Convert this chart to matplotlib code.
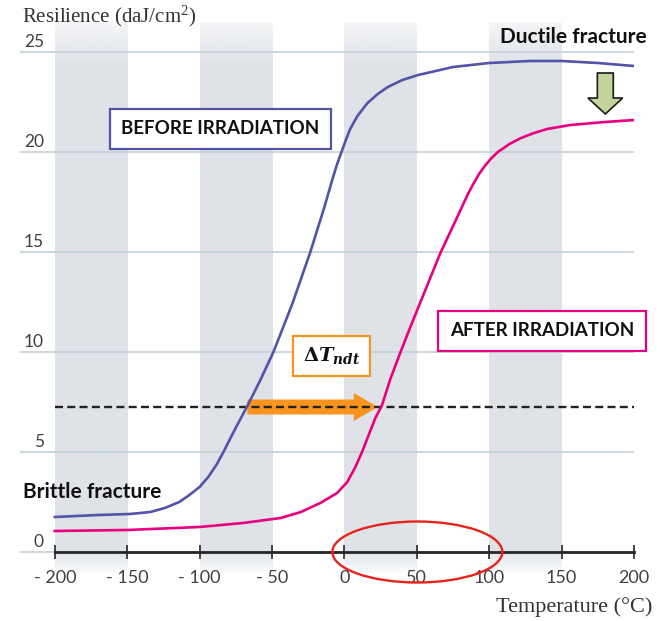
import numpy as np
import matplotlib
matplotlib.use("Agg")
import matplotlib.pyplot as plt
from matplotlib.patches import Ellipse, FancyArrow

plt.rcParams['font.family'] = ['Lato', 'DejaVu Sans']
plt.rcParams['mathtext.fontset'] = 'custom'
plt.rcParams['mathtext.rm'] = 'DejaVu Serif:bold'
plt.rcParams['mathtext.it'] = 'DejaVu Serif:italic:bold'

# data
temp_before = [-200, -170, -148, -134, -124, -114, -107, -100, -94, -88, -83.5, -79, -74, -67,
               -58, -49, -36, -23.5, -14, -8, -5, -2, 1, 4, 9, 16, 23, 30, 40, 51, 75, 100,
               128, 150, 175, 200]
res_before = [1.75, 1.85, 1.9, 2.0, 2.2, 2.5, 2.85, 3.25, 3.75, 4.4, 5.0, 5.65, 6.35, 7.3,
              8.6, 10.0, 12.4, 15.0, 17.2, 18.7, 19.4, 20.0, 20.6, 21.15, 21.8, 22.45, 22.9,
              23.25, 23.6, 23.85, 24.25, 24.45, 24.55, 24.55, 24.45, 24.3]

temp_after = [-200, -150, -100, -70, -44, -30, -16.6, -5, 2, 7.6, 12.2, 16.8, 21.4, 26, 32,
              38, 45, 52, 59, 66, 77, 85, 89, 93, 97, 101, 106, 114, 122, 131, 140, 156, 180, 200]
res_after = [1.05, 1.1, 1.25, 1.45, 1.7, 2.0, 2.45, 2.95, 3.5, 4.25, 5.0, 5.85, 6.7, 7.35, 8.7,
             9.85, 11.15, 12.4, 13.65, 14.9, 16.6, 17.85, 18.4, 18.9, 19.3, 19.65, 20.0, 20.4,
             20.7, 20.95, 21.15, 21.35, 21.5, 21.6]

ndt_level = 7.25
ndt_before = -67
ndt_after = 23

x_ticks = [-200, -150, -100, -50, 0, 50, 100, 150, 200]
x_labels = ['- 200', '- 150', '- 100', '- 50', '0', '50', '100', '150', '200']
y_ticks = [0, 5, 10, 15, 20, 25]
bands = [(-200, -150), (-100, -50), (0, 50), (100, 150)]

blue = '#5254a8'
pink = '#e8007f'
orange = '#f7941d'

fig = plt.figure(figsize=(6.67, 6.21), dpi=100)
ax = fig.add_axes([20 / 667, 39 / 621, 614 / 667, 560 / 621])

# shaded bands with soft fade at top and below the axis
yy = np.linspace(-1.2, 27.5, 300)
alpha = np.clip((yy + 1.2) / 1.2, 0, 1) * np.clip((27.5 - yy) / 3.0, 0, 1)
grad = np.zeros((len(yy), 1, 4))
grad[..., 0] = 0xdf / 255
grad[..., 1] = 0xe3 / 255
grad[..., 2] = 0xe8 / 255
grad[:, 0, 3] = alpha[::-1]
for x0, x1 in bands:
    ax.imshow(grad, extent=(x0, x1, -1.2, 27.5), aspect='auto', zorder=0, interpolation='bilinear')
ax.set_xlim(-224, 200)
ax.set_ylim(-1.5, 26.5)

# grid lines and y labels
for v in y_ticks:
    ax.plot([-224, 200], [v, v], color='#c3d0d8', lw=1.2, zorder=1)
    ax.text(-207.5, v + 0.25, str(v), ha='right', va='baseline', fontsize=12.5, color='#404040')

# x axis
for s in ['top', 'right', 'left']:
    ax.spines[s].set_visible(False)
ax.spines['bottom'].set_position(('data', 0))
ax.spines['bottom'].set_bounds(-200, 200)
ax.spines['bottom'].set_linewidth(2)
ax.spines['bottom'].set_color('#262626')
ax.spines['bottom'].set_zorder(3)
ax.set_xticks(x_ticks)
ax.set_xticklabels(x_labels, fontsize=13, color='#404040')
ax.tick_params(axis='x', direction='inout', length=10, width=1.2, color='#262626', pad=8)
ax.set_yticks([])

# NDT shift arrow and dashed level
ax.add_patch(FancyArrow(ndt_before, ndt_level, ndt_after - ndt_before, 0, width=0.75,
                        head_width=1.4, head_length=16.5, length_includes_head=True,
                        color=orange, lw=0, zorder=2))
ax.plot([-200, 200], [ndt_level, ndt_level], ls=(0, (3.4, 1.8)), color='#222222', lw=1.7, zorder=4)

# curves
ax.plot(temp_before, res_before, color=blue, lw=1.9, zorder=5, solid_joinstyle='round')
ax.plot(temp_after, res_after, color=pink, lw=1.9, zorder=5, solid_joinstyle='round')

# green down arrow
ax.add_patch(FancyArrow(180.2, 23.95, 0, -2.05, width=11, head_width=24, head_length=0.8,
                        length_includes_head=True, facecolor='#c3d59a', edgecolor='#1a1a1a',
                        lw=1.2, zorder=6))

# red ellipse
ax.add_patch(Ellipse((50.4, 0.0), 117.4, 3.05, fill=False, edgecolor='#e8231c', lw=1.7,
                     zorder=7, clip_on=False))

# boxes and labels
ax.text(-85.6, 21.15, 'BEFORE IRRADIATION', ha='center', va='center', fontsize=13.5,
        fontweight='bold', color='#111111', zorder=8,
        bbox=dict(boxstyle='square,pad=0.62', fc='white', ec=blue, lw=1.6))
ax.text(136.4, 11.05, 'AFTER IRRADIATION', ha='center', va='center', fontsize=13.5,
        fontweight='bold', color='#111111', zorder=8,
        bbox=dict(boxstyle='square,pad=0.62', fc='white', ec=pink, lw=1.6))
ax.text(-9, 9.8, r'$\Delta T_{ndt}$', ha='center', va='center', fontsize=14, color='#111111',
        zorder=8, bbox=dict(boxstyle='square,pad=0.5', fc='white', ec=orange, lw=1.6))
ax.text(209, 25.75, 'Ductile fracture', ha='right', va='center', fontsize=15,
        fontweight='bold', color='#111111', zorder=8, clip_on=False)
ax.text(-222, 3.0, 'Brittle fracture', ha='left', va='center', fontsize=15,
        fontweight='bold', color='#111111', zorder=8)

fig.text(22 / 667, 1 - 16 / 621, r'Resilience (daJ/cm$^{\mathregular{2}}$)', ha='left',
         va='center', fontsize=15, family='Liberation Serif', color='#333333')
fig.text(652 / 667, 1 - 607 / 621, 'Temperature (°C)', ha='right', va='center',
         fontsize=16, family='Liberation Serif', color='#333333')

fig.savefig('out.png', dpi=100)
